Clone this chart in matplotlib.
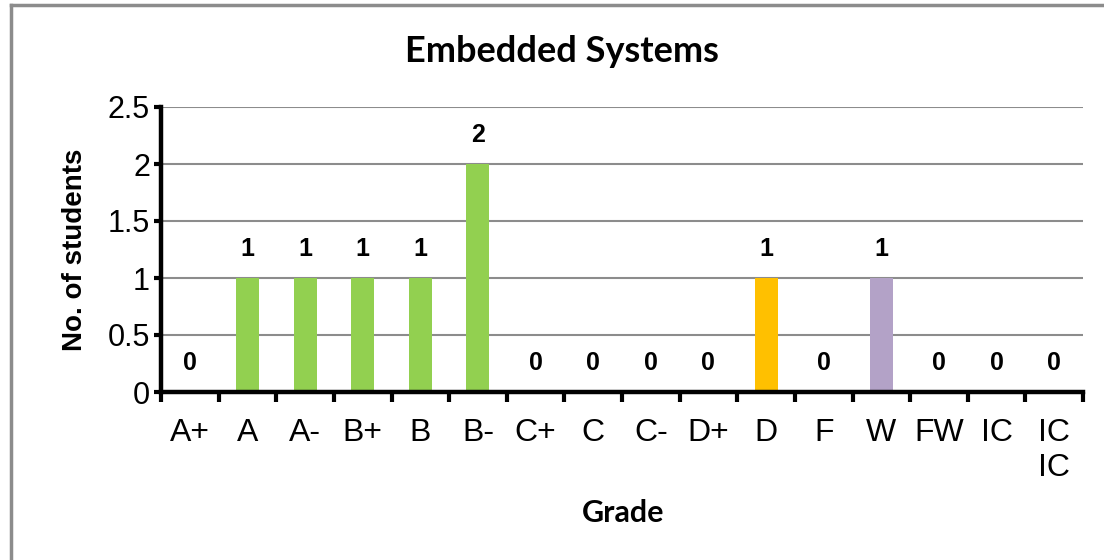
import matplotlib.pyplot as plt
import numpy as np
from matplotlib import rcParams
from matplotlib.lines import Line2D

rcParams['font.family'] = ['Liberation Sans', 'DejaVu Sans']

# 数据
grades = ['A+', 'A', 'A-', 'B+', 'B', 'B-', 'C+', 'C', 'C-', 'D+',
          'D', 'F', 'W', 'FW', 'IC', 'IC\nIC']
students = [0, 1, 1, 1, 1, 2, 0, 0, 0, 0, 1, 0, 1, 0, 0, 0]

COLOR_GREEN = '#92D050'
COLOR_ORANGE = '#FFC000'
COLOR_PURPLE = '#B3A2C7'
bar_colors = [COLOR_GREEN] * 10 + [COLOR_ORANGE, COLOR_GREEN, COLOR_PURPLE,
                                   COLOR_GREEN, COLOR_GREEN, COLOR_GREEN]

fig = plt.figure(figsize=(11.04, 5.6), dpi=100)
ax = fig.add_axes([161 / 1104, 1 - 392 / 560, (1083 - 161) / 1104, (392 - 107) / 560])

x = np.arange(len(grades))
ax.bar(x, students, width=0.4, color=bar_colors, zorder=3)

# 数据标签
for xi, v in zip(x, students):
    ax.annotate(str(v), (xi, v), xytext=(0, 12), textcoords='offset points',
                ha='center', va='bottom', fontsize=18, fontweight='bold', zorder=4)

ax.set_xlim(-0.5, len(grades) - 0.5)
ax.set_ylim(0, 2.5)
ax.set_yticks([0, 0.5, 1, 1.5, 2, 2.5])
ax.set_yticklabels(['0', '0.5', '1', '1.5', '2', '2.5'])

# 类别标签居中, 刻度线在类别之间
ax.set_xticks(x)
ax.set_xticklabels(grades, fontsize=23, linespacing=1.2, va='top')
ax.tick_params(axis='x', which='major', length=0, pad=19)
ax.set_xticks(np.arange(-0.5, len(grades)), minor=True)
ax.tick_params(axis='x', which='minor', length=7, width=3, direction='out')
ax.tick_params(axis='y', labelsize=22, length=5, width=3, direction='out', pad=3)

ax.grid(True, axis='y', color='#8c8c8c', linewidth=1.5, zorder=0)
ax.set_axisbelow(True)
for side in ['top', 'right']:
    ax.spines[side].set_visible(False)
for side in ['left', 'bottom']:
    ax.spines[side].set_linewidth(3.2)
    ax.spines[side].set_zorder(5)

ax.set_ylabel('No. of students', fontsize=20, fontweight='bold', labelpad=14)

fig.text(562 / 1104, 1 - 51 / 560, 'Embedded Systems', ha='center', va='center',
         fontsize=26, fontweight='bold', family=['Lato', 'DejaVu Sans'])
fig.text(623 / 1104, 1 - 513 / 560, 'Grade', ha='center', va='center',
         fontsize=22, fontweight='bold', family=['Lato', 'DejaVu Sans'])

# 外框
fig.add_artist(Line2D([11 / 1104, 11 / 1104], [0, 1 - 5 / 560], color='#8c8c8c',
                      linewidth=2.5, transform=fig.transFigure))
fig.add_artist(Line2D([11 / 1104, 1], [1 - 5 / 560, 1 - 5 / 560], color='#8c8c8c',
                      linewidth=2.5, transform=fig.transFigure))

plt.savefig('out.png', dpi=100)
